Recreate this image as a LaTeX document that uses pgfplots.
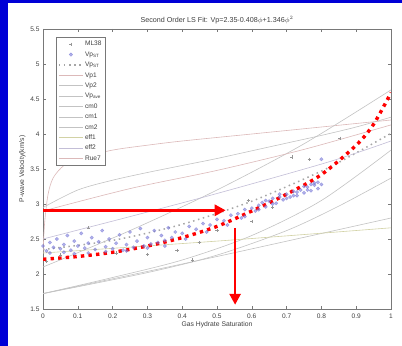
\documentclass[border=0pt]{standalone}
\usepackage{fontspec}
\setmainfont{Liberation Sans}
\usepackage{pgfplots}
\pgfplotsset{compat=1.18}
\usetikzlibrary{arrows.meta}

\definecolor{bgblue}{RGB}{0,0,214}
\definecolor{ptblue}{RGB}{115,115,215}
\definecolor{ptgray}{RGB}{150,150,150}
\definecolor{lgray}{RGB}{195,195,195}
\definecolor{lpink}{RGB}{220,185,185}
\definecolor{lyel}{RGB}{210,210,165}
\definecolor{llav}{RGB}{195,190,215}
\definecolor{axgray}{RGB}{120,120,120}

\begin{document}
\begin{tikzpicture}[x=1bp,y=1bp]
\fill[bgblue] (0,0) rectangle (402,346);
\fill[white] (8,0) rectangle (402,343);
\path[use as bounding box] (0,0) rectangle (402,346);
\begin{axis}[
  at={(43bp,37bp)}, anchor=south west,
  scale only axis, width=348bp, height=280bp,
  xmin=0, xmax=1, ymin=1.5, ymax=5.5,
  xtick={0,0.1,0.2,0.3,0.4,0.5,0.6,0.7,0.8,0.9,1},
  xticklabels={0,0.1,0.2,0.3,0.4,0.5,0.6,0.7,0.8,0.9,1},
  ytick={1.5,2,2.5,3,3.5,4,4.5,5,5.5},
  yticklabels={1.5,2,2.5,3,3.5,4,4.5,5,5.5},
  tick align=inside, major tick length=3bp,
  axis line style={axgray, line width=0.6bp},
  every tick/.style={axgray, line width=0.5bp},
  tick label style={font=\fontsize{6.6}{7.5}\selectfont, text=black!75},
  xticklabel style={yshift=-1bp},
  title={Second Order LS Fit: Vp=2.35-0.408$\phi$+1.346$\phi^2$},
  title style={font=\fontsize{7.2}{8}\selectfont, text=black!75, yshift=-4bp},
  xlabel={Gas Hydrate Saturation},
  ylabel={P-wave Velocity(km/s)},
  label style={font=\fontsize{6.8}{7.5}\selectfont, text=black!75},
  xlabel style={yshift=3bp},
  ylabel style={yshift=-2bp},
  legend cell align=left,
  legend style={at={(0.037,0.971)}, anchor=north west,
    draw=axgray, line width=0.5bp, fill=white,
    font=\fontsize{6.6}{7.5}\selectfont, text=black!75,
    inner sep=2bp, row sep=0.8bp,
    nodes={inner sep=1.4bp, text height=5.2bp, text depth=1.6bp}},
  legend image code/.code={\draw[#1] (2bp,0bp) -- (26bp,0bp);},
]
% measured velocities
\addplot[only marks, mark=+, mark size=1.6bp, ptgray, line width=0.4bp,
  legend image code/.code={\draw[mark repeat=2,mark phase=2] plot coordinates {(2bp,0bp) (14bp,0bp) (26bp,0bp)};}]
  coordinates {
  (0.43,2.20) (0.13,2.66) (0.385,2.34) (0.715,3.67) (0.765,3.64)
  (0.853,3.94) (0.45,2.45) (0.30,2.28) (0.60,2.75) (0.01,2.18)
  (0.05,2.27) (0.21,2.30) (0.50,2.62) (0.66,2.95) (0.59,3.05)
};
\addlegendentry{ML38}
\addplot[only marks, mark=*, mark size=1.7bp, ptblue, draw opacity=0.55, fill opacity=0.55,
  legend image code/.code={\draw[mark repeat=2,mark phase=2] plot coordinates {(2bp,0bp) (14bp,0bp) (26bp,0bp)};}]
  coordinates {
  (0.00,2.40) (0.01,2.33) (0.02,2.45) (0.03,2.38) (0.04,2.50) (0.05,2.36)
  (0.06,2.42) (0.07,2.55) (0.08,2.34) (0.09,2.47) (0.10,2.40) (0.11,2.58)
  (0.12,2.37) (0.13,2.44) (0.14,2.52) (0.15,2.35) (0.16,2.46) (0.17,2.62)
  (0.18,2.39) (0.19,2.50) (0.20,2.36) (0.21,2.44) (0.22,2.56) (0.23,2.34)
  (0.24,2.42) (0.25,2.60) (0.26,2.38) (0.27,2.47) (0.28,2.65) (0.29,2.40)
  (0.30,2.52) (0.31,2.43) (0.32,2.62) (0.33,2.45) (0.34,2.55) (0.35,2.48)
  (0.36,2.66) (0.37,2.52) (0.38,2.60) (0.40,2.58) (0.42,2.68) (0.44,2.64)
  (0.46,2.72) (0.48,2.70) (0.50,2.78) (0.52,2.76) (0.54,2.84) (0.56,2.86)
  (0.57,2.80) (0.58,2.92) (0.60,2.94) (0.61,2.90) (0.62,2.98) (0.63,3.02)
  (0.64,2.96) (0.65,3.04) (0.66,3.08) (0.67,3.01) (0.68,3.10) (0.69,3.06)
  (0.70,3.14) (0.71,3.10) (0.72,3.18) (0.73,3.12) (0.74,3.20) (0.75,3.16)
  (0.76,3.24) (0.77,3.19) (0.78,3.27) (0.79,3.22) (0.80,3.28) (0.80,3.64)
  (0.02,2.30) (0.06,2.31) (0.09,2.29) (0.13,2.30) (0.18,2.32) (0.24,2.33)
  (0.30,2.37) (0.35,2.40) (0.41,2.50) (0.47,2.60) (0.53,2.70) (0.58,2.82)
  (0.62,2.92) (0.66,3.00) (0.70,3.08) (0.73,3.17) (0.76,3.20) (0.78,3.30)
  (0.64,3.05) (0.68,3.14) (0.72,3.12) (0.75,3.25) (0.77,3.28) (0.79,3.31)
};
\addlegendentry{Vp\textsubscript{ST}}
% second order least-squares fit
\addplot[ptgray!85, line width=1.5bp, dash pattern=on 1.5bp off 3.6bp, smooth]
  coordinates {(0,2.35) (0.2,2.48) (0.4,2.71) (0.6,3.04) (0.8,3.47) (0.9,3.73) (1,4.01)};
\addlegendentry{Vp\textsubscript{ST}}
% model curves
\addplot[lpink, line width=0.6bp, smooth] coordinates {
  (0,2.30) (0.005,2.75) (0.015,3.15) (0.03,3.38) (0.06,3.55) (0.1,3.65)
  (0.2,3.77) (0.3,3.84) (0.4,3.90) (0.6,4.00) (0.8,4.10) (1,4.20)};
\addlegendentry{Vp1}
\addplot[lgray, line width=0.6bp, smooth] coordinates {
  (0,2.95) (0.1,3.20) (0.2,3.34) (0.3,3.45) (0.4,3.55) (0.5,3.65)
  (0.6,3.76) (0.7,3.87) (0.8,3.98) (0.9,4.10) (1,4.24)};
\addlegendentry{Vp2}
\addplot[lgray, line width=0.6bp, smooth] coordinates {
  (0,2.10) (0.25,2.62) (0.5,3.20) (0.75,3.86) (1,4.63)};
\addlegendentry{Vp\textsubscript{ave}}
\addplot[lgray, line width=0.6bp, smooth] coordinates {
  (0,1.72) (0.2,1.95) (0.4,2.20) (0.6,2.55) (0.8,3.05) (1,3.77)};
\addlegendentry{cm0}
\addplot[lgray, line width=0.6bp, smooth] coordinates {
  (0,1.72) (0.3,2.02) (0.5,2.27) (0.7,2.62) (0.85,2.97) (1,3.37)};
\addlegendentry{cm1}
\addplot[lgray, line width=0.6bp, smooth] coordinates {
  (0,1.72) (0.5,2.25) (1,2.80)};
\addlegendentry{cm2}
\addplot[lyel, line width=0.6bp, smooth] coordinates {
  (0,2.30) (0.5,2.47) (1,2.66)};
\addlegendentry{eff1}
\addplot[llav, line width=0.6bp, smooth] coordinates {
  (0,2.50) (0.25,2.82) (0.5,3.15) (0.82,3.60) (1,3.90)};
\addlegendentry{eff2}
\addplot[lpink, line width=0.6bp, smooth] coordinates {
  (0,2.90) (0.25,3.22) (0.5,3.48) (0.75,3.78) (1,4.13)};
\addlegendentry{Rue7}
% highlighted trend and read-off arrows
\addplot[red, line width=3.4bp, dash pattern=on 3.4bp off 4.2bp, smooth, forget plot]
  coordinates {(0,2.21) (0.1,2.25) (0.2,2.31) (0.3,2.40) (0.4,2.52) (0.5,2.68)
  (0.6,2.90) (0.7,3.14) (0.8,3.42) (0.9,3.84) (0.95,4.14) (1.0,4.59)};
\addplot[red, line width=2.8bp, -{Triangle[length=11bp,width=11bp]}, forget plot]
  coordinates {(0,2.91) (0.525,2.91)};
\addplot[red, line width=2.8bp, -{Triangle[length=11bp,width=11bp]}, forget plot]
  coordinates {(0.552,2.66) (0.552,1.56)};
\end{axis}
\end{tikzpicture}
\end{document}
